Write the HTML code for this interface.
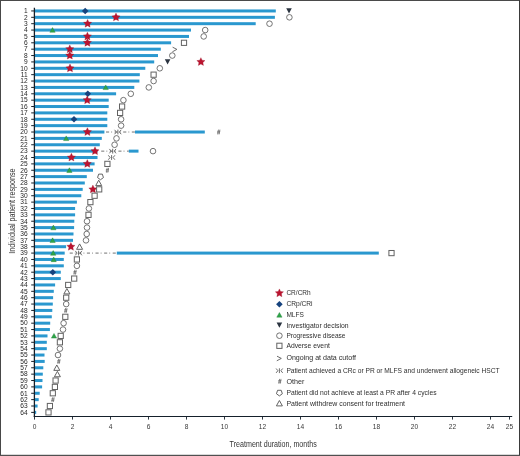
<!DOCTYPE html><html><head><meta charset="utf-8"><style>html,body{margin:0;padding:0;background:#fff}svg{display:block;will-change:transform}text{font-family:"Liberation Sans",sans-serif}</style></head><body>
<svg width="520" height="456" viewBox="0 0 520 456">
<rect x="0" y="0" width="520" height="456" fill="#fff"/>
<rect x="34.5" y="9.45" width="241.30" height="3.0" fill="#2a98cf"/>
<rect x="34.5" y="15.82" width="240.40" height="3.0" fill="#2a98cf"/>
<rect x="34.5" y="22.19" width="221.20" height="3.0" fill="#2a98cf"/>
<rect x="34.5" y="28.57" width="156.50" height="3.0" fill="#2a98cf"/>
<rect x="34.5" y="34.94" width="154.50" height="3.0" fill="#2a98cf"/>
<rect x="34.5" y="41.31" width="136.60" height="3.0" fill="#2a98cf"/>
<rect x="34.5" y="47.68" width="126.30" height="3.0" fill="#2a98cf"/>
<rect x="34.5" y="54.05" width="123.50" height="3.0" fill="#2a98cf"/>
<rect x="34.5" y="60.43" width="119.70" height="3.0" fill="#2a98cf"/>
<rect x="34.5" y="66.80" width="110.80" height="3.0" fill="#2a98cf"/>
<rect x="34.5" y="73.17" width="105.30" height="3.0" fill="#2a98cf"/>
<rect x="34.5" y="79.54" width="104.90" height="3.0" fill="#2a98cf"/>
<rect x="34.5" y="85.91" width="99.80" height="3.0" fill="#2a98cf"/>
<rect x="34.5" y="92.29" width="81.60" height="3.0" fill="#2a98cf"/>
<rect x="34.5" y="98.66" width="74.20" height="3.0" fill="#2a98cf"/>
<rect x="34.5" y="105.03" width="74.20" height="3.0" fill="#2a98cf"/>
<rect x="34.5" y="111.40" width="72.80" height="3.0" fill="#2a98cf"/>
<rect x="34.5" y="117.77" width="72.80" height="3.0" fill="#2a98cf"/>
<rect x="34.5" y="124.15" width="72.80" height="3.0" fill="#2a98cf"/>
<rect x="34.5" y="130.52" width="69.90" height="3.0" fill="#2a98cf"/>
<rect x="106.00" y="131.52" width="3.10" height="1" fill="#737373"/>
<rect x="111.10" y="131.52" width="1" height="1" fill="#8a8a8a"/>
<rect x="114.60" y="131.52" width="3.10" height="1" fill="#737373"/>
<rect x="119.70" y="131.52" width="1" height="1" fill="#8a8a8a"/>
<rect x="123.20" y="131.52" width="3.10" height="1" fill="#737373"/>
<rect x="128.30" y="131.52" width="1" height="1" fill="#8a8a8a"/>
<rect x="131.80" y="131.52" width="3.10" height="1" fill="#737373"/>
<rect x="135.0" y="130.52" width="69.80" height="3.0" fill="#2a98cf"/>
<rect x="34.5" y="136.89" width="67.30" height="3.0" fill="#2a98cf"/>
<rect x="34.5" y="143.26" width="65.30" height="3.0" fill="#2a98cf"/>
<rect x="34.5" y="149.63" width="63.00" height="3.0" fill="#2a98cf"/>
<rect x="101.20" y="150.63" width="3.10" height="1" fill="#737373"/>
<rect x="106.30" y="150.63" width="1" height="1" fill="#8a8a8a"/>
<rect x="109.80" y="150.63" width="3.10" height="1" fill="#737373"/>
<rect x="114.90" y="150.63" width="1" height="1" fill="#8a8a8a"/>
<rect x="118.40" y="150.63" width="3.10" height="1" fill="#737373"/>
<rect x="123.50" y="150.63" width="1" height="1" fill="#8a8a8a"/>
<rect x="127.00" y="150.63" width="1.80" height="1" fill="#737373"/>
<rect x="128.8" y="149.63" width="9.70" height="3.0" fill="#2a98cf"/>
<rect x="34.5" y="156.01" width="63.00" height="3.0" fill="#2a98cf"/>
<rect x="34.5" y="162.38" width="60.10" height="3.0" fill="#2a98cf"/>
<rect x="34.5" y="168.75" width="58.50" height="3.0" fill="#2a98cf"/>
<rect x="34.5" y="175.12" width="52.30" height="3.0" fill="#2a98cf"/>
<rect x="34.5" y="181.49" width="50.30" height="3.0" fill="#2a98cf"/>
<rect x="34.5" y="187.87" width="48.20" height="3.0" fill="#2a98cf"/>
<rect x="34.5" y="194.24" width="46.80" height="3.0" fill="#2a98cf"/>
<rect x="34.5" y="200.61" width="42.40" height="3.0" fill="#2a98cf"/>
<rect x="34.5" y="206.98" width="40.60" height="3.0" fill="#2a98cf"/>
<rect x="34.5" y="213.35" width="40.60" height="3.0" fill="#2a98cf"/>
<rect x="34.5" y="219.73" width="39.80" height="3.0" fill="#2a98cf"/>
<rect x="34.5" y="226.10" width="39.60" height="3.0" fill="#2a98cf"/>
<rect x="34.5" y="232.47" width="39.00" height="3.0" fill="#2a98cf"/>
<rect x="34.5" y="238.84" width="38.50" height="3.0" fill="#2a98cf"/>
<rect x="34.5" y="245.21" width="31.60" height="3.0" fill="#2a98cf"/>
<rect x="34.5" y="251.59" width="30.20" height="3.0" fill="#2a98cf"/>
<rect x="69.70" y="252.59" width="3.10" height="1" fill="#737373"/>
<rect x="74.80" y="252.59" width="1" height="1" fill="#8a8a8a"/>
<rect x="78.30" y="252.59" width="3.10" height="1" fill="#737373"/>
<rect x="83.40" y="252.59" width="1" height="1" fill="#8a8a8a"/>
<rect x="86.90" y="252.59" width="3.10" height="1" fill="#737373"/>
<rect x="92.00" y="252.59" width="1" height="1" fill="#8a8a8a"/>
<rect x="95.50" y="252.59" width="3.10" height="1" fill="#737373"/>
<rect x="100.60" y="252.59" width="1" height="1" fill="#8a8a8a"/>
<rect x="104.10" y="252.59" width="3.10" height="1" fill="#737373"/>
<rect x="109.20" y="252.59" width="1" height="1" fill="#8a8a8a"/>
<rect x="112.70" y="252.59" width="3.10" height="1" fill="#737373"/>
<rect x="116.8" y="251.59" width="262.00" height="3.0" fill="#2a98cf"/>
<rect x="34.5" y="257.96" width="29.30" height="3.0" fill="#2a98cf"/>
<rect x="34.5" y="264.33" width="29.30" height="3.0" fill="#2a98cf"/>
<rect x="34.5" y="270.70" width="26.30" height="3.0" fill="#2a98cf"/>
<rect x="34.5" y="277.07" width="26.30" height="3.0" fill="#2a98cf"/>
<rect x="34.5" y="283.45" width="20.60" height="3.0" fill="#2a98cf"/>
<rect x="34.5" y="289.82" width="19.30" height="3.0" fill="#2a98cf"/>
<rect x="34.5" y="296.19" width="18.60" height="3.0" fill="#2a98cf"/>
<rect x="34.5" y="302.56" width="18.30" height="3.0" fill="#2a98cf"/>
<rect x="34.5" y="308.93" width="17.80" height="3.0" fill="#2a98cf"/>
<rect x="34.5" y="315.31" width="17.30" height="3.0" fill="#2a98cf"/>
<rect x="34.5" y="321.68" width="15.70" height="3.0" fill="#2a98cf"/>
<rect x="34.5" y="328.05" width="15.40" height="3.0" fill="#2a98cf"/>
<rect x="34.5" y="334.42" width="13.00" height="3.0" fill="#2a98cf"/>
<rect x="34.5" y="340.79" width="12.30" height="3.0" fill="#2a98cf"/>
<rect x="34.5" y="347.17" width="12.30" height="3.0" fill="#2a98cf"/>
<rect x="34.5" y="353.54" width="10.00" height="3.0" fill="#2a98cf"/>
<rect x="34.5" y="359.91" width="10.20" height="3.0" fill="#2a98cf"/>
<rect x="34.5" y="366.28" width="8.80" height="3.0" fill="#2a98cf"/>
<rect x="34.5" y="372.65" width="8.30" height="3.0" fill="#2a98cf"/>
<rect x="34.5" y="379.03" width="8.00" height="3.0" fill="#2a98cf"/>
<rect x="34.5" y="385.40" width="7.60" height="3.0" fill="#2a98cf"/>
<rect x="34.5" y="391.77" width="5.20" height="3.0" fill="#2a98cf"/>
<rect x="34.5" y="398.14" width="4.20" height="3.0" fill="#2a98cf"/>
<rect x="34.5" y="404.51" width="3.10" height="3.0" fill="#2a98cf"/>
<rect x="34.5" y="410.89" width="1.70" height="3.0" fill="#2a98cf"/>
<polygon points="85.2,7.6499999999999995 88.5,10.95 85.2,14.25 81.9,10.95" fill="#17437e"/>
<polygon points="286.2,8.35 291.8,8.35 289.0,13.549999999999999" fill="#2b3440"/>
<polygon points="116.00,13.02 117.23,15.62 120.09,15.99 118.00,17.97 118.53,20.80 116.00,19.42 113.47,20.80 114.00,17.97 111.91,15.99 114.77,15.62" fill="#bb1430" stroke="#9a1026" stroke-width="0.3"/>
<circle cx="289.4" cy="17.322" r="2.8" fill="#fff" stroke="#5c5c5c" stroke-width="0.85"/>
<polygon points="87.60,19.39 88.83,22.00 91.69,22.37 89.60,24.34 90.13,27.17 87.60,25.79 85.07,27.17 85.60,24.34 83.51,22.37 86.37,22.00" fill="#bb1430" stroke="#9a1026" stroke-width="0.3"/>
<circle cx="269.5" cy="23.694" r="2.8" fill="#fff" stroke="#5c5c5c" stroke-width="0.85"/>
<polygon points="52.5,27.566 55.15,32.266 49.85,32.266" fill="#2ea548" stroke="#22803a" stroke-width="0.4"/>
<circle cx="205.2" cy="30.066" r="2.8" fill="#fff" stroke="#5c5c5c" stroke-width="0.85"/>
<polygon points="87.40,32.14 88.63,34.74 91.49,35.11 89.40,37.09 89.93,39.92 87.40,38.54 84.87,39.92 85.40,37.09 83.31,35.11 86.17,34.74" fill="#bb1430" stroke="#9a1026" stroke-width="0.3"/>
<circle cx="203.7" cy="36.438" r="2.8" fill="#fff" stroke="#5c5c5c" stroke-width="0.85"/>
<polygon points="87.40,38.51 88.63,41.11 91.49,41.48 89.40,43.46 89.93,46.29 87.40,44.91 84.87,46.29 85.40,43.46 83.31,41.48 86.17,41.11" fill="#bb1430" stroke="#9a1026" stroke-width="0.3"/>
<rect x="181.4" y="40.21" width="5.2" height="5.2" fill="#fff" stroke="#626262" stroke-width="1.0"/>
<polygon points="69.80,44.88 71.03,47.48 73.89,47.85 71.80,49.83 72.33,52.66 69.80,51.28 67.27,52.66 67.80,49.83 65.71,47.85 68.57,47.48" fill="#bb1430" stroke="#9a1026" stroke-width="0.3"/>
<polyline points="172.6,47.182 176.9,49.382000000000005 172.4,51.782000000000004" fill="none" stroke="#5c5c5c" stroke-width="0.9"/>
<polygon points="69.80,51.25 71.03,53.86 73.89,54.23 71.80,56.20 72.33,59.03 69.80,57.65 67.27,59.03 67.80,56.20 65.71,54.23 68.57,53.86" fill="#bb1430" stroke="#9a1026" stroke-width="0.3"/>
<circle cx="172.3" cy="55.554" r="2.8" fill="#fff" stroke="#5c5c5c" stroke-width="0.85"/>
<polygon points="164.79999999999998,59.326 170.4,59.326 167.6,64.526" fill="#2b3440"/>
<polygon points="200.90,57.63 202.13,60.23 204.99,60.60 202.90,62.57 203.43,65.40 200.90,64.03 198.37,65.40 198.90,62.57 196.81,60.60 199.67,60.23" fill="#bb1430" stroke="#9a1026" stroke-width="0.3"/>
<polygon points="70.00,64.00 71.23,66.60 74.09,66.97 72.00,68.95 72.53,71.78 70.00,70.40 67.47,71.78 68.00,68.95 65.91,66.97 68.77,66.60" fill="#bb1430" stroke="#9a1026" stroke-width="0.3"/>
<circle cx="159.8" cy="68.298" r="2.8" fill="#fff" stroke="#5c5c5c" stroke-width="0.85"/>
<rect x="151.0" y="72.07000000000001" width="5.2" height="5.2" fill="#fff" stroke="#626262" stroke-width="1.0"/>
<circle cx="153.6" cy="81.042" r="2.8" fill="#fff" stroke="#5c5c5c" stroke-width="0.85"/>
<polygon points="105.7,84.914 108.35000000000001,89.614 103.05,89.614" fill="#2ea548" stroke="#22803a" stroke-width="0.4"/>
<circle cx="148.8" cy="87.414" r="2.8" fill="#fff" stroke="#5c5c5c" stroke-width="0.85"/>
<polygon points="87.8,90.486 91.1,93.786 87.8,97.086 84.5,93.786" fill="#17437e"/>
<circle cx="130.8" cy="93.786" r="2.8" fill="#fff" stroke="#5c5c5c" stroke-width="0.85"/>
<polygon points="87.20,95.86 88.43,98.46 91.29,98.83 89.20,100.81 89.73,103.64 87.20,102.26 84.67,103.64 85.20,100.81 83.11,98.83 85.97,98.46" fill="#bb1430" stroke="#9a1026" stroke-width="0.3"/>
<circle cx="123.4" cy="100.158" r="2.8" fill="#fff" stroke="#5c5c5c" stroke-width="0.85"/>
<rect x="119.5" y="103.93" width="5.2" height="5.2" fill="#fff" stroke="#626262" stroke-width="1.0"/>
<rect x="117.5" y="110.302" width="5.2" height="5.2" fill="#fff" stroke="#626262" stroke-width="1.0"/>
<polygon points="74.0,115.974 77.3,119.274 74.0,122.574 70.7,119.274" fill="#17437e"/>
<circle cx="121.1" cy="119.274" r="2.8" fill="#fff" stroke="#5c5c5c" stroke-width="0.85"/>
<circle cx="121.1" cy="125.646" r="2.8" fill="#fff" stroke="#5c5c5c" stroke-width="0.85"/>
<polygon points="87.40,127.72 88.63,130.32 91.49,130.69 89.40,132.67 89.93,135.50 87.40,134.12 84.87,135.50 85.40,132.67 83.31,130.69 86.17,130.32" fill="#bb1430" stroke="#9a1026" stroke-width="0.3"/>
<g fill="none" stroke="#5c5c5c" stroke-width="0.9"><line x1="117.9" y1="129.618" x2="117.9" y2="134.418"/><polyline points="114.60000000000001,129.818 116.4,132.018 114.60000000000001,134.218"/><polyline points="121.2,129.818 119.4,132.018 121.2,134.218"/></g>
<g stroke="#6e6e6e" stroke-width="0.8" fill="none"><line x1="217.70000000000002" y1="134.418" x2="218.5" y2="129.618"/><line x1="219.10000000000002" y1="134.418" x2="219.9" y2="129.618"/><line x1="217.20000000000002" y1="131.318" x2="220.20000000000002" y2="131.318"/><line x1="217.0" y1="132.818" x2="220.0" y2="132.818"/></g>
<polygon points="66.2,135.89 68.85000000000001,140.58999999999997 63.550000000000004,140.58999999999997" fill="#2ea548" stroke="#22803a" stroke-width="0.4"/>
<circle cx="116.5" cy="138.39" r="2.8" fill="#fff" stroke="#5c5c5c" stroke-width="0.85"/>
<circle cx="114.6" cy="144.762" r="2.8" fill="#fff" stroke="#5c5c5c" stroke-width="0.85"/>
<polygon points="95.00,146.83 96.23,149.44 99.09,149.81 97.00,151.78 97.53,154.61 95.00,153.23 92.47,154.61 93.00,151.78 90.91,149.81 93.77,149.44" fill="#bb1430" stroke="#9a1026" stroke-width="0.3"/>
<g fill="none" stroke="#5c5c5c" stroke-width="0.9"><line x1="112.7" y1="148.73399999999998" x2="112.7" y2="153.534"/><polyline points="109.4,148.934 111.2,151.134 109.4,153.33399999999997"/><polyline points="116.0,148.934 114.2,151.134 116.0,153.33399999999997"/></g>
<circle cx="153.0" cy="151.134" r="2.8" fill="#fff" stroke="#5c5c5c" stroke-width="0.85"/>
<polygon points="71.40,153.21 72.63,155.81 75.49,156.18 73.40,158.15 73.93,160.98 71.40,159.61 68.87,160.98 69.40,158.15 67.31,156.18 70.17,155.81" fill="#bb1430" stroke="#9a1026" stroke-width="0.3"/>
<g fill="none" stroke="#5c5c5c" stroke-width="0.9"><line x1="111.6" y1="155.10599999999997" x2="111.6" y2="159.90599999999998"/><polyline points="108.3,155.30599999999998 110.1,157.50599999999997 108.3,159.70599999999996"/><polyline points="114.89999999999999,155.30599999999998 113.1,157.50599999999997 114.89999999999999,159.70599999999996"/></g>
<polygon points="87.30,159.58 88.53,162.18 91.39,162.55 89.30,164.53 89.83,167.36 87.30,165.98 84.77,167.36 85.30,164.53 83.21,162.55 86.07,162.18" fill="#bb1430" stroke="#9a1026" stroke-width="0.3"/>
<rect x="104.80000000000001" y="161.278" width="5.2" height="5.2" fill="#fff" stroke="#626262" stroke-width="1.0"/>
<polygon points="69.4,167.75 72.05000000000001,172.45 66.75,172.45" fill="#2ea548" stroke="#22803a" stroke-width="0.4"/>
<g stroke="#6e6e6e" stroke-width="0.8" fill="none"><line x1="106.4" y1="172.65" x2="107.2" y2="167.85"/><line x1="107.8" y1="172.65" x2="108.6" y2="167.85"/><line x1="105.9" y1="169.55" x2="108.9" y2="169.55"/><line x1="105.7" y1="171.05" x2="108.7" y2="171.05"/></g>
<polygon points="100.50,179.72 97.55,177.58 98.68,174.11 102.32,174.11 103.45,177.58" fill="#fff" stroke="#5c5c5c" stroke-width="0.95"/>
<polygon points="98.7,180.19399999999996 101.7,185.59399999999997 95.7,185.59399999999997" fill="#fff" stroke="#5c5c5c" stroke-width="0.95"/>
<polygon points="92.90,185.07 94.13,187.67 96.99,188.04 94.90,190.01 95.43,192.84 92.90,191.47 90.37,192.84 90.90,190.01 88.81,188.04 91.67,187.67" fill="#bb1430" stroke="#9a1026" stroke-width="0.3"/>
<rect x="96.60000000000001" y="186.766" width="5.2" height="5.2" fill="#fff" stroke="#626262" stroke-width="1.0"/>
<rect x="92.0" y="193.138" width="5.2" height="5.2" fill="#fff" stroke="#626262" stroke-width="1.0"/>
<rect x="87.80000000000001" y="199.51" width="5.2" height="5.2" fill="#fff" stroke="#626262" stroke-width="1.0"/>
<circle cx="88.9" cy="208.48199999999997" r="2.8" fill="#fff" stroke="#5c5c5c" stroke-width="0.85"/>
<rect x="85.9" y="212.254" width="5.2" height="5.2" fill="#fff" stroke="#626262" stroke-width="1.0"/>
<circle cx="87.0" cy="221.226" r="2.8" fill="#fff" stroke="#5c5c5c" stroke-width="0.85"/>
<polygon points="53.4,225.09799999999998 56.05,229.79799999999997 50.75,229.79799999999997" fill="#2ea548" stroke="#22803a" stroke-width="0.4"/>
<circle cx="87.0" cy="227.59799999999998" r="2.8" fill="#fff" stroke="#5c5c5c" stroke-width="0.85"/>
<circle cx="86.7" cy="233.96999999999997" r="2.8" fill="#fff" stroke="#5c5c5c" stroke-width="0.85"/>
<polygon points="52.6,237.84199999999998 55.25,242.54199999999997 49.95,242.54199999999997" fill="#2ea548" stroke="#22803a" stroke-width="0.4"/>
<circle cx="86.0" cy="240.34199999999998" r="2.8" fill="#fff" stroke="#5c5c5c" stroke-width="0.85"/>
<polygon points="70.90,242.41 72.13,245.02 74.99,245.39 72.90,247.36 73.43,250.19 70.90,248.81 68.37,250.19 68.90,247.36 66.81,245.39 69.67,245.02" fill="#bb1430" stroke="#9a1026" stroke-width="0.3"/>
<polygon points="79.6,243.914 82.6,249.314 76.6,249.314" fill="#fff" stroke="#5c5c5c" stroke-width="0.95"/>
<polygon points="53.2,250.58599999999998 55.85,255.28599999999997 50.550000000000004,255.28599999999997" fill="#2ea548" stroke="#22803a" stroke-width="0.4"/>
<g fill="none" stroke="#5c5c5c" stroke-width="0.9"><line x1="78.6" y1="250.68599999999998" x2="78.6" y2="255.486"/><polyline points="75.3,250.886 77.1,253.08599999999998 75.3,255.28599999999997"/><polyline points="81.89999999999999,250.886 80.1,253.08599999999998 81.89999999999999,255.28599999999997"/></g>
<rect x="388.9" y="250.486" width="5.2" height="5.2" fill="#fff" stroke="#626262" stroke-width="1.0"/>
<polygon points="53.7,256.95799999999997 56.35,261.65799999999996 51.050000000000004,261.65799999999996" fill="#2ea548" stroke="#22803a" stroke-width="0.4"/>
<rect x="74.30000000000001" y="256.85799999999995" width="5.2" height="5.2" fill="#fff" stroke="#626262" stroke-width="1.0"/>
<circle cx="76.9" cy="265.83" r="2.8" fill="#fff" stroke="#5c5c5c" stroke-width="0.85"/>
<polygon points="52.8,268.902 56.099999999999994,272.202 52.8,275.502 49.5,272.202" fill="#17437e"/>
<g stroke="#6e6e6e" stroke-width="0.8" fill="none"><line x1="74.0" y1="274.602" x2="74.8" y2="269.802"/><line x1="75.39999999999999" y1="274.602" x2="76.19999999999999" y2="269.802"/><line x1="73.5" y1="271.502" x2="76.5" y2="271.502"/><line x1="73.3" y1="273.002" x2="76.3" y2="273.002"/></g>
<rect x="71.60000000000001" y="275.974" width="5.2" height="5.2" fill="#fff" stroke="#626262" stroke-width="1.0"/>
<rect x="65.60000000000001" y="282.34599999999995" width="5.2" height="5.2" fill="#fff" stroke="#626262" stroke-width="1.0"/>
<polygon points="66.9,288.518 69.9,293.918 63.900000000000006,293.918" fill="#fff" stroke="#5c5c5c" stroke-width="0.95"/>
<rect x="63.6" y="295.09" width="5.2" height="5.2" fill="#fff" stroke="#626262" stroke-width="1.0"/>
<circle cx="66.2" cy="304.06199999999995" r="2.8" fill="#fff" stroke="#5c5c5c" stroke-width="0.85"/>
<g stroke="#6e6e6e" stroke-width="0.8" fill="none"><line x1="64.80000000000001" y1="312.83399999999995" x2="65.60000000000001" y2="308.034"/><line x1="66.2" y1="312.83399999999995" x2="67.0" y2="308.034"/><line x1="64.30000000000001" y1="309.734" x2="67.30000000000001" y2="309.734"/><line x1="64.10000000000001" y1="311.234" x2="67.10000000000001" y2="311.234"/></g>
<rect x="62.699999999999996" y="314.20599999999996" width="5.2" height="5.2" fill="#fff" stroke="#626262" stroke-width="1.0"/>
<circle cx="63.6" cy="323.178" r="2.8" fill="#fff" stroke="#5c5c5c" stroke-width="0.85"/>
<circle cx="63.0" cy="329.55" r="2.8" fill="#fff" stroke="#5c5c5c" stroke-width="0.85"/>
<polygon points="54.0,333.42199999999997 56.65,338.12199999999996 51.35,338.12199999999996" fill="#2ea548" stroke="#22803a" stroke-width="0.4"/>
<rect x="58.1" y="333.32199999999995" width="5.2" height="5.2" fill="#fff" stroke="#626262" stroke-width="1.0"/>
<rect x="57.3" y="339.69399999999996" width="5.2" height="5.2" fill="#fff" stroke="#626262" stroke-width="1.0"/>
<circle cx="59.9" cy="348.666" r="2.8" fill="#fff" stroke="#5c5c5c" stroke-width="0.85"/>
<circle cx="58.0" cy="355.03799999999995" r="2.8" fill="#fff" stroke="#5c5c5c" stroke-width="0.85"/>
<g stroke="#6e6e6e" stroke-width="0.8" fill="none"><line x1="57.8" y1="363.80999999999995" x2="58.6" y2="359.01"/><line x1="59.199999999999996" y1="363.80999999999995" x2="60.0" y2="359.01"/><line x1="57.3" y1="360.71" x2="60.3" y2="360.71"/><line x1="57.1" y1="362.21" x2="60.1" y2="362.21"/></g>
<polygon points="56.8,364.98199999999997 59.8,370.382 53.8,370.382" fill="#fff" stroke="#5c5c5c" stroke-width="0.95"/>
<polygon points="57.4,371.354 60.4,376.754 54.4,376.754" fill="#fff" stroke="#5c5c5c" stroke-width="0.95"/>
<rect x="53.0" y="377.926" width="5.2" height="5.2" fill="#fff" stroke="#626262" stroke-width="1.0"/>
<rect x="52.3" y="384.29799999999994" width="5.2" height="5.2" fill="#fff" stroke="#626262" stroke-width="1.0"/>
<rect x="50.199999999999996" y="390.66999999999996" width="5.2" height="5.2" fill="#fff" stroke="#626262" stroke-width="1.0"/>
<g stroke="#6e6e6e" stroke-width="0.8" fill="none"><line x1="51.9" y1="402.042" x2="52.7" y2="397.242"/><line x1="53.3" y1="402.042" x2="54.1" y2="397.242"/><line x1="51.4" y1="398.942" x2="54.4" y2="398.942"/><line x1="51.2" y1="400.442" x2="54.2" y2="400.442"/></g>
<rect x="47.3" y="403.41399999999993" width="5.2" height="5.2" fill="#fff" stroke="#626262" stroke-width="1.0"/>
<rect x="45.9" y="409.78599999999994" width="5.2" height="5.2" fill="#fff" stroke="#626262" stroke-width="1.0"/>
<line x1="34.4" y1="7.8" x2="34.4" y2="417" stroke="#15202b" stroke-width="1.3"/>
<line x1="33.8" y1="416.5" x2="512.2" y2="416.5" stroke="#15202b" stroke-width="1.2"/>
<line x1="31.2" y1="10.95" x2="34.4" y2="10.95" stroke="#15202b" stroke-width="1.0"/>
<text x="27.6" y="13.25" font-size="6.6" fill="#262626" text-anchor="end">1</text>
<line x1="31.2" y1="17.32" x2="34.4" y2="17.32" stroke="#15202b" stroke-width="1.0"/>
<text x="27.6" y="19.62" font-size="6.6" fill="#262626" text-anchor="end">2</text>
<line x1="31.2" y1="23.69" x2="34.4" y2="23.69" stroke="#15202b" stroke-width="1.0"/>
<text x="27.6" y="25.99" font-size="6.6" fill="#262626" text-anchor="end">3</text>
<line x1="31.2" y1="30.07" x2="34.4" y2="30.07" stroke="#15202b" stroke-width="1.0"/>
<text x="27.6" y="32.37" font-size="6.6" fill="#262626" text-anchor="end">4</text>
<line x1="31.2" y1="36.44" x2="34.4" y2="36.44" stroke="#15202b" stroke-width="1.0"/>
<text x="27.6" y="38.74" font-size="6.6" fill="#262626" text-anchor="end">5</text>
<line x1="31.2" y1="42.81" x2="34.4" y2="42.81" stroke="#15202b" stroke-width="1.0"/>
<text x="27.6" y="45.11" font-size="6.6" fill="#262626" text-anchor="end">6</text>
<line x1="31.2" y1="49.18" x2="34.4" y2="49.18" stroke="#15202b" stroke-width="1.0"/>
<text x="27.6" y="51.48" font-size="6.6" fill="#262626" text-anchor="end">7</text>
<line x1="31.2" y1="55.55" x2="34.4" y2="55.55" stroke="#15202b" stroke-width="1.0"/>
<text x="27.6" y="57.85" font-size="6.6" fill="#262626" text-anchor="end">8</text>
<line x1="31.2" y1="61.93" x2="34.4" y2="61.93" stroke="#15202b" stroke-width="1.0"/>
<text x="27.6" y="64.23" font-size="6.6" fill="#262626" text-anchor="end">9</text>
<line x1="31.2" y1="68.30" x2="34.4" y2="68.30" stroke="#15202b" stroke-width="1.0"/>
<text x="27.6" y="70.60" font-size="6.6" fill="#262626" text-anchor="end">10</text>
<line x1="31.2" y1="74.67" x2="34.4" y2="74.67" stroke="#15202b" stroke-width="1.0"/>
<text x="27.6" y="76.97" font-size="6.6" fill="#262626" text-anchor="end">11</text>
<line x1="31.2" y1="81.04" x2="34.4" y2="81.04" stroke="#15202b" stroke-width="1.0"/>
<text x="27.6" y="83.34" font-size="6.6" fill="#262626" text-anchor="end">12</text>
<line x1="31.2" y1="87.41" x2="34.4" y2="87.41" stroke="#15202b" stroke-width="1.0"/>
<text x="27.6" y="89.71" font-size="6.6" fill="#262626" text-anchor="end">13</text>
<line x1="31.2" y1="93.79" x2="34.4" y2="93.79" stroke="#15202b" stroke-width="1.0"/>
<text x="27.6" y="96.09" font-size="6.6" fill="#262626" text-anchor="end">14</text>
<line x1="31.2" y1="100.16" x2="34.4" y2="100.16" stroke="#15202b" stroke-width="1.0"/>
<text x="27.6" y="102.46" font-size="6.6" fill="#262626" text-anchor="end">15</text>
<line x1="31.2" y1="106.53" x2="34.4" y2="106.53" stroke="#15202b" stroke-width="1.0"/>
<text x="27.6" y="108.83" font-size="6.6" fill="#262626" text-anchor="end">16</text>
<line x1="31.2" y1="112.90" x2="34.4" y2="112.90" stroke="#15202b" stroke-width="1.0"/>
<text x="27.6" y="115.20" font-size="6.6" fill="#262626" text-anchor="end">17</text>
<line x1="31.2" y1="119.27" x2="34.4" y2="119.27" stroke="#15202b" stroke-width="1.0"/>
<text x="27.6" y="121.57" font-size="6.6" fill="#262626" text-anchor="end">18</text>
<line x1="31.2" y1="125.65" x2="34.4" y2="125.65" stroke="#15202b" stroke-width="1.0"/>
<text x="27.6" y="127.95" font-size="6.6" fill="#262626" text-anchor="end">19</text>
<line x1="31.2" y1="132.02" x2="34.4" y2="132.02" stroke="#15202b" stroke-width="1.0"/>
<text x="27.6" y="134.32" font-size="6.6" fill="#262626" text-anchor="end">20</text>
<line x1="31.2" y1="138.39" x2="34.4" y2="138.39" stroke="#15202b" stroke-width="1.0"/>
<text x="27.6" y="140.69" font-size="6.6" fill="#262626" text-anchor="end">21</text>
<line x1="31.2" y1="144.76" x2="34.4" y2="144.76" stroke="#15202b" stroke-width="1.0"/>
<text x="27.6" y="147.06" font-size="6.6" fill="#262626" text-anchor="end">22</text>
<line x1="31.2" y1="151.13" x2="34.4" y2="151.13" stroke="#15202b" stroke-width="1.0"/>
<text x="27.6" y="153.43" font-size="6.6" fill="#262626" text-anchor="end">23</text>
<line x1="31.2" y1="157.51" x2="34.4" y2="157.51" stroke="#15202b" stroke-width="1.0"/>
<text x="27.6" y="159.81" font-size="6.6" fill="#262626" text-anchor="end">24</text>
<line x1="31.2" y1="163.88" x2="34.4" y2="163.88" stroke="#15202b" stroke-width="1.0"/>
<text x="27.6" y="166.18" font-size="6.6" fill="#262626" text-anchor="end">25</text>
<line x1="31.2" y1="170.25" x2="34.4" y2="170.25" stroke="#15202b" stroke-width="1.0"/>
<text x="27.6" y="172.55" font-size="6.6" fill="#262626" text-anchor="end">26</text>
<line x1="31.2" y1="176.62" x2="34.4" y2="176.62" stroke="#15202b" stroke-width="1.0"/>
<text x="27.6" y="178.92" font-size="6.6" fill="#262626" text-anchor="end">27</text>
<line x1="31.2" y1="182.99" x2="34.4" y2="182.99" stroke="#15202b" stroke-width="1.0"/>
<text x="27.6" y="185.29" font-size="6.6" fill="#262626" text-anchor="end">28</text>
<line x1="31.2" y1="189.37" x2="34.4" y2="189.37" stroke="#15202b" stroke-width="1.0"/>
<text x="27.6" y="191.67" font-size="6.6" fill="#262626" text-anchor="end">29</text>
<line x1="31.2" y1="195.74" x2="34.4" y2="195.74" stroke="#15202b" stroke-width="1.0"/>
<text x="27.6" y="198.04" font-size="6.6" fill="#262626" text-anchor="end">30</text>
<line x1="31.2" y1="202.11" x2="34.4" y2="202.11" stroke="#15202b" stroke-width="1.0"/>
<text x="27.6" y="204.41" font-size="6.6" fill="#262626" text-anchor="end">31</text>
<line x1="31.2" y1="208.48" x2="34.4" y2="208.48" stroke="#15202b" stroke-width="1.0"/>
<text x="27.6" y="210.78" font-size="6.6" fill="#262626" text-anchor="end">32</text>
<line x1="31.2" y1="214.85" x2="34.4" y2="214.85" stroke="#15202b" stroke-width="1.0"/>
<text x="27.6" y="217.15" font-size="6.6" fill="#262626" text-anchor="end">33</text>
<line x1="31.2" y1="221.23" x2="34.4" y2="221.23" stroke="#15202b" stroke-width="1.0"/>
<text x="27.6" y="223.53" font-size="6.6" fill="#262626" text-anchor="end">34</text>
<line x1="31.2" y1="227.60" x2="34.4" y2="227.60" stroke="#15202b" stroke-width="1.0"/>
<text x="27.6" y="229.90" font-size="6.6" fill="#262626" text-anchor="end">35</text>
<line x1="31.2" y1="233.97" x2="34.4" y2="233.97" stroke="#15202b" stroke-width="1.0"/>
<text x="27.6" y="236.27" font-size="6.6" fill="#262626" text-anchor="end">36</text>
<line x1="31.2" y1="240.34" x2="34.4" y2="240.34" stroke="#15202b" stroke-width="1.0"/>
<text x="27.6" y="242.64" font-size="6.6" fill="#262626" text-anchor="end">37</text>
<line x1="31.2" y1="246.71" x2="34.4" y2="246.71" stroke="#15202b" stroke-width="1.0"/>
<text x="27.6" y="249.01" font-size="6.6" fill="#262626" text-anchor="end">38</text>
<line x1="31.2" y1="253.09" x2="34.4" y2="253.09" stroke="#15202b" stroke-width="1.0"/>
<text x="27.6" y="255.39" font-size="6.6" fill="#262626" text-anchor="end">39</text>
<line x1="31.2" y1="259.46" x2="34.4" y2="259.46" stroke="#15202b" stroke-width="1.0"/>
<text x="27.6" y="261.76" font-size="6.6" fill="#262626" text-anchor="end">40</text>
<line x1="31.2" y1="265.83" x2="34.4" y2="265.83" stroke="#15202b" stroke-width="1.0"/>
<text x="27.6" y="268.13" font-size="6.6" fill="#262626" text-anchor="end">41</text>
<line x1="31.2" y1="272.20" x2="34.4" y2="272.20" stroke="#15202b" stroke-width="1.0"/>
<text x="27.6" y="274.50" font-size="6.6" fill="#262626" text-anchor="end">42</text>
<line x1="31.2" y1="278.57" x2="34.4" y2="278.57" stroke="#15202b" stroke-width="1.0"/>
<text x="27.6" y="280.87" font-size="6.6" fill="#262626" text-anchor="end">43</text>
<line x1="31.2" y1="284.95" x2="34.4" y2="284.95" stroke="#15202b" stroke-width="1.0"/>
<text x="27.6" y="287.25" font-size="6.6" fill="#262626" text-anchor="end">44</text>
<line x1="31.2" y1="291.32" x2="34.4" y2="291.32" stroke="#15202b" stroke-width="1.0"/>
<text x="27.6" y="293.62" font-size="6.6" fill="#262626" text-anchor="end">45</text>
<line x1="31.2" y1="297.69" x2="34.4" y2="297.69" stroke="#15202b" stroke-width="1.0"/>
<text x="27.6" y="299.99" font-size="6.6" fill="#262626" text-anchor="end">46</text>
<line x1="31.2" y1="304.06" x2="34.4" y2="304.06" stroke="#15202b" stroke-width="1.0"/>
<text x="27.6" y="306.36" font-size="6.6" fill="#262626" text-anchor="end">47</text>
<line x1="31.2" y1="310.43" x2="34.4" y2="310.43" stroke="#15202b" stroke-width="1.0"/>
<text x="27.6" y="312.73" font-size="6.6" fill="#262626" text-anchor="end">48</text>
<line x1="31.2" y1="316.81" x2="34.4" y2="316.81" stroke="#15202b" stroke-width="1.0"/>
<text x="27.6" y="319.11" font-size="6.6" fill="#262626" text-anchor="end">49</text>
<line x1="31.2" y1="323.18" x2="34.4" y2="323.18" stroke="#15202b" stroke-width="1.0"/>
<text x="27.6" y="325.48" font-size="6.6" fill="#262626" text-anchor="end">50</text>
<line x1="31.2" y1="329.55" x2="34.4" y2="329.55" stroke="#15202b" stroke-width="1.0"/>
<text x="27.6" y="331.85" font-size="6.6" fill="#262626" text-anchor="end">51</text>
<line x1="31.2" y1="335.92" x2="34.4" y2="335.92" stroke="#15202b" stroke-width="1.0"/>
<text x="27.6" y="338.22" font-size="6.6" fill="#262626" text-anchor="end">52</text>
<line x1="31.2" y1="342.29" x2="34.4" y2="342.29" stroke="#15202b" stroke-width="1.0"/>
<text x="27.6" y="344.59" font-size="6.6" fill="#262626" text-anchor="end">53</text>
<line x1="31.2" y1="348.67" x2="34.4" y2="348.67" stroke="#15202b" stroke-width="1.0"/>
<text x="27.6" y="350.97" font-size="6.6" fill="#262626" text-anchor="end">54</text>
<line x1="31.2" y1="355.04" x2="34.4" y2="355.04" stroke="#15202b" stroke-width="1.0"/>
<text x="27.6" y="357.34" font-size="6.6" fill="#262626" text-anchor="end">55</text>
<line x1="31.2" y1="361.41" x2="34.4" y2="361.41" stroke="#15202b" stroke-width="1.0"/>
<text x="27.6" y="363.71" font-size="6.6" fill="#262626" text-anchor="end">56</text>
<line x1="31.2" y1="367.78" x2="34.4" y2="367.78" stroke="#15202b" stroke-width="1.0"/>
<text x="27.6" y="370.08" font-size="6.6" fill="#262626" text-anchor="end">57</text>
<line x1="31.2" y1="374.15" x2="34.4" y2="374.15" stroke="#15202b" stroke-width="1.0"/>
<text x="27.6" y="376.45" font-size="6.6" fill="#262626" text-anchor="end">58</text>
<line x1="31.2" y1="380.53" x2="34.4" y2="380.53" stroke="#15202b" stroke-width="1.0"/>
<text x="27.6" y="382.83" font-size="6.6" fill="#262626" text-anchor="end">59</text>
<line x1="31.2" y1="386.90" x2="34.4" y2="386.90" stroke="#15202b" stroke-width="1.0"/>
<text x="27.6" y="389.20" font-size="6.6" fill="#262626" text-anchor="end">60</text>
<line x1="31.2" y1="393.27" x2="34.4" y2="393.27" stroke="#15202b" stroke-width="1.0"/>
<text x="27.6" y="395.57" font-size="6.6" fill="#262626" text-anchor="end">61</text>
<line x1="31.2" y1="399.64" x2="34.4" y2="399.64" stroke="#15202b" stroke-width="1.0"/>
<text x="27.6" y="401.94" font-size="6.6" fill="#262626" text-anchor="end">62</text>
<line x1="31.2" y1="406.01" x2="34.4" y2="406.01" stroke="#15202b" stroke-width="1.0"/>
<text x="27.6" y="408.31" font-size="6.6" fill="#262626" text-anchor="end">63</text>
<line x1="31.2" y1="412.39" x2="34.4" y2="412.39" stroke="#15202b" stroke-width="1.0"/>
<text x="27.6" y="414.69" font-size="6.6" fill="#262626" text-anchor="end">64</text>
<line x1="34.50" y1="416.5" x2="34.50" y2="419.6" stroke="#15202b" stroke-width="0.9"/>
<text x="34.50" y="428.7" font-size="6.6" fill="#383838" text-anchor="middle">0</text>
<line x1="72.50" y1="416.5" x2="72.50" y2="419.6" stroke="#15202b" stroke-width="0.9"/>
<text x="72.50" y="428.7" font-size="6.6" fill="#383838" text-anchor="middle">2</text>
<line x1="110.50" y1="416.5" x2="110.50" y2="419.6" stroke="#15202b" stroke-width="0.9"/>
<text x="110.50" y="428.7" font-size="6.6" fill="#383838" text-anchor="middle">4</text>
<line x1="148.50" y1="416.5" x2="148.50" y2="419.6" stroke="#15202b" stroke-width="0.9"/>
<text x="148.50" y="428.7" font-size="6.6" fill="#383838" text-anchor="middle">6</text>
<line x1="186.50" y1="416.5" x2="186.50" y2="419.6" stroke="#15202b" stroke-width="0.9"/>
<text x="186.50" y="428.7" font-size="6.6" fill="#383838" text-anchor="middle">8</text>
<line x1="224.50" y1="416.5" x2="224.50" y2="419.6" stroke="#15202b" stroke-width="0.9"/>
<text x="224.50" y="428.7" font-size="6.6" fill="#383838" text-anchor="middle">10</text>
<line x1="262.50" y1="416.5" x2="262.50" y2="419.6" stroke="#15202b" stroke-width="0.9"/>
<text x="262.50" y="428.7" font-size="6.6" fill="#383838" text-anchor="middle">12</text>
<line x1="300.50" y1="416.5" x2="300.50" y2="419.6" stroke="#15202b" stroke-width="0.9"/>
<text x="300.50" y="428.7" font-size="6.6" fill="#383838" text-anchor="middle">14</text>
<line x1="338.50" y1="416.5" x2="338.50" y2="419.6" stroke="#15202b" stroke-width="0.9"/>
<text x="338.50" y="428.7" font-size="6.6" fill="#383838" text-anchor="middle">16</text>
<line x1="376.50" y1="416.5" x2="376.50" y2="419.6" stroke="#15202b" stroke-width="0.9"/>
<text x="376.50" y="428.7" font-size="6.6" fill="#383838" text-anchor="middle">18</text>
<line x1="414.50" y1="416.5" x2="414.50" y2="419.6" stroke="#15202b" stroke-width="0.9"/>
<text x="414.50" y="428.7" font-size="6.6" fill="#383838" text-anchor="middle">20</text>
<line x1="452.50" y1="416.5" x2="452.50" y2="419.6" stroke="#15202b" stroke-width="0.9"/>
<text x="452.50" y="428.7" font-size="6.6" fill="#383838" text-anchor="middle">22</text>
<line x1="490.50" y1="416.5" x2="490.50" y2="419.6" stroke="#15202b" stroke-width="0.9"/>
<text x="490.50" y="428.7" font-size="6.6" fill="#383838" text-anchor="middle">24</text>
<line x1="509.50" y1="416.5" x2="509.50" y2="419.6" stroke="#15202b" stroke-width="0.9"/>
<text x="509.50" y="428.7" font-size="6.6" fill="#383838" text-anchor="middle">25</text>
<text x="229.6" y="447" font-size="9.3" fill="#333" textLength="87.2" lengthAdjust="spacingAndGlyphs">Treatment duration, months</text>
<text transform="translate(14.9,253.8) rotate(-90)" x="0" y="0" font-size="9.5" fill="#333" textLength="85.4" lengthAdjust="spacingAndGlyphs">Individual patient response</text>
<polygon points="279.40,288.90 280.63,291.50 283.49,291.87 281.40,293.85 281.93,296.68 279.40,295.30 276.87,296.68 277.40,293.85 275.31,291.87 278.17,291.50" fill="#bb1430" stroke="#9a1026" stroke-width="0.3"/>
<text x="286.4" y="295.3" font-size="6.65" fill="#2e2e2e" textLength="24.3" lengthAdjust="spacingAndGlyphs">CR/CRh</text>
<polygon points="279.4,301.0 282.7,304.3 279.4,307.6 276.09999999999997,304.3" fill="#17437e"/>
<text x="286.4" y="306.0" font-size="6.65" fill="#2e2e2e" textLength="26.2" lengthAdjust="spacingAndGlyphs">CRp/CRi</text>
<polygon points="279.4,312.5 282.04999999999995,317.2 276.75,317.2" fill="#2ea548" stroke="#22803a" stroke-width="0.4"/>
<text x="286.4" y="316.6" font-size="6.65" fill="#2e2e2e" textLength="17.4" lengthAdjust="spacingAndGlyphs">MLFS</text>
<polygon points="276.59999999999997,322.59999999999997 282.2,322.59999999999997 279.4,327.8" fill="#2b3440"/>
<text x="286.4" y="327.5" font-size="6.65" fill="#2e2e2e" textLength="62.2" lengthAdjust="spacingAndGlyphs">Investigator decision</text>
<circle cx="279.4" cy="335.7" r="2.8" fill="#fff" stroke="#5c5c5c" stroke-width="0.85"/>
<text x="286.4" y="338.0" font-size="6.65" fill="#2e2e2e" textLength="59.1" lengthAdjust="spacingAndGlyphs">Progressive disease</text>
<rect x="276.79999999999995" y="343.2" width="5.2" height="5.2" fill="#fff" stroke="#626262" stroke-width="1.0"/>
<text x="286.4" y="348.0" font-size="6.65" fill="#2e2e2e" textLength="43.4" lengthAdjust="spacingAndGlyphs">Adverse event</text>
<polyline points="277.0,356.2 281.29999999999995,358.4 276.79999999999995,360.8" fill="none" stroke="#5c5c5c" stroke-width="0.9"/>
<text x="286.4" y="360.3" font-size="6.65" fill="#2e2e2e" textLength="69.6" lengthAdjust="spacingAndGlyphs">Ongoing at data cutoff</text>
<g fill="none" stroke="#5c5c5c" stroke-width="0.9"><line x1="279.4" y1="368.3" x2="279.4" y2="373.09999999999997"/><polyline points="276.09999999999997,368.5 277.9,370.7 276.09999999999997,372.9"/><polyline points="282.7,368.5 280.9,370.7 282.7,372.9"/></g>
<text x="286.4" y="373.1" font-size="6.65" fill="#2e2e2e" textLength="213.2" lengthAdjust="spacingAndGlyphs">Patient achieved a CRc or PR or MLFS and underwent allogeneic HSCT</text>
<g stroke="#6e6e6e" stroke-width="0.8" fill="none"><line x1="278.79999999999995" y1="383.7" x2="279.59999999999997" y2="378.90000000000003"/><line x1="280.2" y1="383.7" x2="281.0" y2="378.90000000000003"/><line x1="278.29999999999995" y1="380.6" x2="281.29999999999995" y2="380.6"/><line x1="278.09999999999997" y1="382.1" x2="281.09999999999997" y2="382.1"/></g>
<text x="286.4" y="383.9" font-size="6.65" fill="#2e2e2e" textLength="17.9" lengthAdjust="spacingAndGlyphs">Other</text>
<polygon points="279.40,395.90 276.45,393.76 277.58,390.29 281.22,390.29 282.35,393.76" fill="#fff" stroke="#5c5c5c" stroke-width="0.95"/>
<text x="286.4" y="395.0" font-size="6.65" fill="#2e2e2e" textLength="150.2" lengthAdjust="spacingAndGlyphs">Patient did not achieve at least a PR after 4 cycles</text>
<polygon points="279.4,400.5 282.4,405.90000000000003 276.4,405.90000000000003" fill="#fff" stroke="#5c5c5c" stroke-width="0.95"/>
<text x="286.4" y="405.9" font-size="6.65" fill="#2e2e2e" textLength="118.6" lengthAdjust="spacingAndGlyphs">Patient withdrew consent for treatment</text>
<rect x="0" y="454" width="520" height="1" fill="#d8d8d8"/>
<rect x="0" y="0" width="520" height="1" fill="#4a4a4a"/>
<rect x="0" y="0" width="1" height="456" fill="#484848"/>
<rect x="519" y="0" width="1" height="456" fill="#3a3a3a"/>
<rect x="0" y="455" width="520" height="1" fill="#505050"/>
</svg></body></html>
